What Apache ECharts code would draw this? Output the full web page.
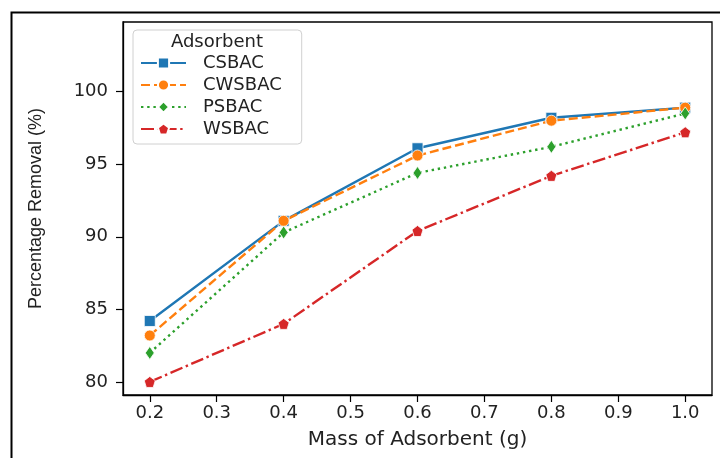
<!DOCTYPE html>
<html>
<head>
<meta charset="utf-8">
<script src="https://cdn.jsdelivr.net/npm/echarts@6/dist/echarts.min.js"></script>
<style>
  html, body { margin: 0; padding: 0; background: #fff; }
  #removalChart { width: 720px; height: 458px; }
</style>
</head>
<body>
<div id="removalChart"></div>
<script>
// mass of adsorbent (g)
let massValues = [0.2, 0.4, 0.6, 0.8, 1.0];
let csbac = [84.2, 91.1, 96.1, 98.2, 98.9];
let cwsbac = [83.2, 91.1, 95.6, 98.0, 98.9];
let psbac = [82.0, 90.3, 94.4, 96.2, 98.5];
let wsbac = [80.0, 84.0, 90.4, 94.2, 97.2];
let xTicks = [0.2, 0.3, 0.4, 0.5, 0.6, 0.7, 0.8, 0.9, 1.0];
let yTicks = [80, 85, 90, 95, 100];

let pentagon = 'path://M0,-10 L9.51,-3.09 L5.88,8.09 L-5.88,8.09 L-9.51,-3.09 Z';

function pairs(vals) {
    return massValues.map((m, i) => [m, vals[i]]);
}

function makeSeries(name, vals, color, lineType, symbol, symbolSize) {
    return {
        name: name,
        type: 'line',
        data: pairs(vals),
        symbol: symbol,
        symbolSize: symbolSize,
        showAllSymbol: true,
        lineStyle: { color: color, width: 2.4, type: lineType },
        itemStyle: { color: color, borderColor: '#fff', borderWidth: 0.8 },
        emphasis: { disabled: true },
        z: 3
    };
}

let chart = echarts.init(document.getElementById('removalChart'));

const option = {
    backgroundColor: '#fff',
    animation: false,
    textStyle: { fontFamily: 'DejaVu Sans' },
    title: {
        text: 'Adsorbent',
        left: 217,
        top: 33,
        textAlign: 'center',
        padding: 0,
        textStyle: { fontFamily: 'DejaVu Sans', fontSize: 18, fontWeight: 'normal', color: '#222' }
    },
    grid: {
        left: 123,
        right: 8,
        top: 22,
        bottom: 63,
        show: true,
        borderColor: '#000',
        borderWidth: 1.3,
        backgroundColor: 'transparent'
    },
    legend: {
        orient: 'vertical',
        left: 133,
        top: 30,
        padding: [24, 20, 6, 7],
        itemGap: 4,
        itemWidth: 45,
        itemHeight: 14,
        backgroundColor: '#fff',
        borderColor: '#d0d0d0',
        borderWidth: 1,
        borderRadius: 4,
        textStyle: { fontFamily: 'DejaVu Sans', fontSize: 18, color: '#222', padding: [0, 0, 0, 12] },
        data: ['CSBAC', 'CWSBAC', 'PSBAC', 'WSBAC']
    },
    xAxis: {
        type: 'value',
        min: 0.16,
        max: 1.04,
        name: 'Mass of Adsorbent (g)',
        nameLocation: 'middle',
        nameGap: 35,
        nameTextStyle: { fontFamily: 'DejaVu Sans', fontSize: 20, color: '#222' },
        splitLine: { show: false },
        axisLine: { show: true, lineStyle: { color: '#000', width: 1.3 } },
        axisTick: { show: true, length: 7, lineStyle: { color: '#000', width: 1.2 }, customValues: xTicks },
        axisLabel: {
            customValues: xTicks,
            margin: 9,
            fontSize: 18,
            color: '#222',
            formatter: v => v.toFixed(1)
        }
    },
    yAxis: {
        type: 'value',
        min: 79.1,
        max: 104.8,
        name: 'Percentage Removal (%)',
        nameLocation: 'middle',
        nameGap: 78,
        nameTextStyle: { fontFamily: 'Liberation Sans', fontSize: 18, color: '#222' },
        splitLine: { show: false },
        axisLine: { show: true, lineStyle: { color: '#000', width: 1.3 } },
        axisTick: { show: true, length: 7, lineStyle: { color: '#000', width: 1.2 }, customValues: yTicks },
        axisLabel: {
            customValues: yTicks,
            margin: 15,
            fontSize: 18,
            color: '#222'
        }
    },
    graphic: [
        {
            type: 'rect',
            left: 9,
            top: 10,
            shape: { width: 730, height: 470 },
            style: { fill: 'none', stroke: '#000', lineWidth: 2 },
            silent: true
        }
    ],
    series: [
        makeSeries('CSBAC', csbac, '#1f77b4', 'solid', 'rect', 11),
        makeSeries('CWSBAC', cwsbac, '#ff7f0e', [9, 4], 'circle', 11),
        makeSeries('PSBAC', psbac, '#2ca02c', [2.4, 3.8], 'diamond', [9, 13]),
        makeSeries('WSBAC', wsbac, '#d62728', [13, 3.6, 2.4, 3.6], pentagon, 11)
    ]
};

chart.setOption(option);

window.addEventListener('resize', function () {
    chart.resize();
});
</script>
</body>
</html>
